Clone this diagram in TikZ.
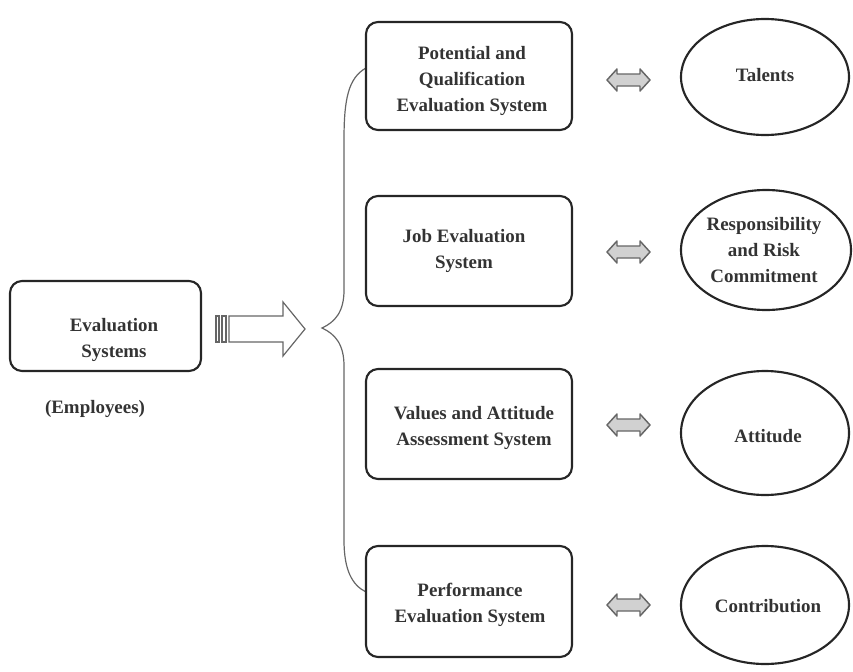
\documentclass[tikz,border=0pt]{standalone}
\usepackage{fontspec}
\setmainfont{Liberation Serif}
\usetikzlibrary{shapes.geometric}
\begin{document}
\begin{tikzpicture}[x=0.75pt,y=-0.75pt,
  txt/.style={font=\fontsize{14.2}{19.8}\selectfont\bfseries, text=black!80, align=center},
  rbox/.style={draw=black!85, line width=1.6pt, rounded corners=9pt, txt},
  ell/.style={draw=black!85, line width=1.6pt, ellipse, txt},
  dbl/.style={draw=black!60, fill=black!18, line width=1.1pt, line join=round}]
\useasboundingbox (0,0) rectangle (853,671);
% left box
\draw[rbox] (10,281) rectangle (201,371);
\node[txt] (ev) at (114,340) {Evaluation\\Systems};
\node[txt] (emp) at (95,409) {(Employees)};
% hollow arrow
\draw[black!60, line width=0.9pt] (216,316) rectangle (219,342);
\draw[black!60, line width=0.9pt] (222,316) rectangle (226,342);
\draw[black!60, line width=0.9pt, line join=miter] (229,316) -- (283,316) -- (283,302) -- (305,329) -- (283,356) -- (283,342) -- (229,342) -- cycle;
% brace
\draw[black!60, line width=0.9pt] (366,68) .. controls (348,78) and (344,100) .. (344,140)
  -- (344,290) .. controls (344,312) and (335,322) .. (322,328)
  .. controls (335,334) and (344,344) .. (344,366) -- (344,540)
  .. controls (344,570) and (352,585) .. (366,592);
% middle boxes
\draw[rbox] (366,22) rectangle (572,130);
\node[txt] (b1) at (472,81) {Potential and\\Qualification\\Evaluation System};
\draw[rbox] (366,196) rectangle (572,306);
\node[txt] (b2) at (464,251) {Job Evaluation\\System};
\draw[rbox] (366,369) rectangle (572,479);
\node[txt] (b3) at (474,428) {Values and Attitude\\Assessment System};
\draw[rbox] (366,546) rectangle (572,657);
\node[txt] (b4) at (470,605) {Performance\\Evaluation System};
% double arrows
\foreach \yy in {80,252,425,605}{
  \draw[dbl] (607,\yy) -- (617,\yy-11) -- (617,\yy-6) -- (640,\yy-6) -- (640,\yy-11) -- (650,\yy) -- (640,\yy+11) -- (640,\yy+6) -- (617,\yy+6) -- (617,\yy+11) -- cycle;
}
% ellipses
\node[ell, minimum width=168pt*0.75, minimum height=116pt*0.75] (e1) at (765,77) {};
\node[txt] (t1) at (765,75) {Talents};
\node[ell, minimum width=170pt*0.75, minimum height=120pt*0.75] (e2) at (766,250) {};
\node[txt] (t2) at (764,250) {Responsibility\\and Risk\\Commitment};
\node[ell, minimum width=168pt*0.75, minimum height=124pt*0.75] (e3) at (765,433) {};
\node[txt] (t3) at (768,436) {Attitude};
\node[ell, minimum width=168pt*0.75, minimum height=118pt*0.75] (e4) at (765,605) {};
\node[txt] (t4) at (768,606) {Contribution};
\end{tikzpicture}
\end{document}
